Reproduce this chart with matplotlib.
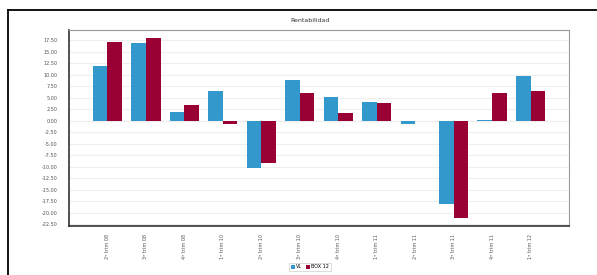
import numpy as np
import matplotlib
matplotlib.use('Agg')
import matplotlib.pyplot as plt
from matplotlib.lines import Line2D
from matplotlib.ticker import FormatStrFormatter

categories = ['2º trim 08', '3º trim 08', '4º trim 08', '1º trim 10', '2º trim 10', '3º trim 10',
              '4º trim 10', '1º trim 11', '2º trim 11', '3º trim 11', '4º trim 11', '1º trim 12']
vl = [11.9, 16.85, 1.9, 6.35, -10.4, 8.75, 5.1, 4.1, -0.65, -18.2, 0.1, 9.6]
box12 = [17.1, 17.9, 3.4, -0.8, -9.1, 6.1, 1.75, 3.8, 0.0, -21.1, 6.0, 6.5]
yticks = np.arange(-22.5, 17.51, 2.5)

fig = plt.figure(figsize=(5.97, 2.75), dpi=100)
ax = fig.add_axes([69/597, 1-226/275, 500/597, 196/275])

x = np.arange(len(categories))
w = 0.38
ax.bar(x - w/2, vl, w, color='#3399cc', label='VL', zorder=3)
ax.bar(x + w/2, box12, w, color='#990033', label='BOX 12', zorder=3)

ax.set_xlim(-1, 12)
ax.set_ylim(-22.9, 19.7)
ax.set_yticks(yticks)
ax.yaxis.set_major_formatter(FormatStrFormatter('%.2f'))
ax.set_xticks(x)
ax.set_xticklabels(categories, rotation=90, fontsize=3.5, color='#555555')
ax.tick_params(axis='y', labelsize=3.5, labelcolor='#555555', length=0, pad=8)
ax.tick_params(axis='x', length=0, pad=6)
ax.grid(axis='y', color='#eeeeee', linewidth=0.8, zorder=0)
ax.axhline(0, color='#e4e4e4', linewidth=0.8, zorder=1)

for s in ['top', 'right']:
    ax.spines[s].set_color('#999999')
    ax.spines[s].set_linewidth(0.8)
for s in ['left', 'bottom']:
    ax.spines[s].set_color('#333333')
    ax.spines[s].set_linewidth(1.2)

fig.text(310/597, 1-20/275, 'Rentabilidad', fontsize=4.5, ha='center', va='center', color='#333333')

leg = fig.legend(loc='center', bbox_to_anchor=(310/597, 1-267/275), ncol=2, fontsize=3.5,
                 frameon=True, handlelength=0.8, handleheight=0.8, handletextpad=0.3,
                 columnspacing=0.8, borderpad=0.4, fancybox=False)
leg.get_frame().set_edgecolor('#cccccc')
leg.get_frame().set_linewidth(0.6)

# outer frame (top and left only)
fig.add_artist(Line2D([8/597, 1], [1-10/275, 1-10/275], color='black', linewidth=1.3))
fig.add_artist(Line2D([8/597, 8/597], [1-10/275, 0], color='black', linewidth=1.3))

fig.savefig('out.png', dpi=100)
